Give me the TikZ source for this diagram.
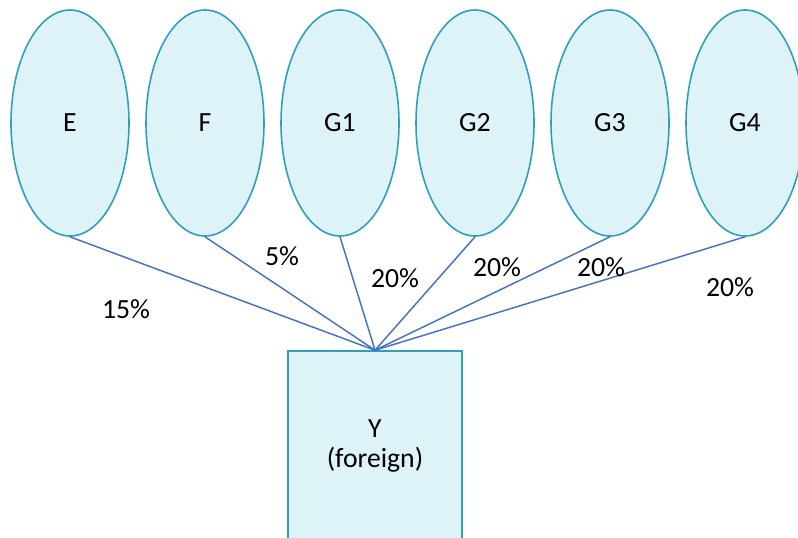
\documentclass[tikz,border=0pt]{standalone}
\usepackage{fontspec}
\setmainfont{Carlito}
\usetikzlibrary{shapes.geometric}

\definecolor{shapefill}{HTML}{DDF3F8}
\definecolor{shapeline}{HTML}{2F9FBA}
\definecolor{linkblue}{HTML}{4472C4}

\tikzset{>=latex}

\begin{document}
\begin{tikzpicture}[x=0.75pt, y=-0.75pt]

	\tikzstyle{group_node} = [ellipse, draw=shapeline, fill=shapefill, line width=1.2pt, minimum width=88.5pt, minimum height=169.5pt, inner sep=0pt, font=\fontsize{20.8}{24}\selectfont]
	\tikzstyle{target_node} = [rectangle, draw=shapeline, fill=shapefill, line width=1.2pt, minimum width=130.5pt, minimum height=142.5pt, inner sep=0pt, align=center, font=\fontsize{20.8}{23}\selectfont]
	\tikzstyle{share} = [font=\fontsize{20.8}{24}\selectfont, inner sep=0pt]
	\tikzstyle{link} = [draw=linkblue, line width=1.1pt]

	\useasboundingbox (0,0) rectangle (798,537);
	\clip (0,0) rectangle (798,537);

%------------------------------------------------------------
	\node[group_node] (e)  at (70,123)  {E};
	\node[group_node] (f)  at (205,123) {F};
	\node[group_node] (g1) at (340,123) {G1};
	\node[group_node] (g2) at (475,123) {G2};
	\node[group_node] (g3) at (610,123) {G3};
	\node[group_node] (g4) at (745,123) {G4};

%------------------------------------------------------------
	\node[target_node] (y) at (375,446) {Y\\(foreign)};

%------------------------------------------------------------
	\path[link] (e.south)  edge (y.north);
	\path[link] (f.south)  edge (y.north);
	\path[link] (g1.south) edge (y.north);
	\path[link] (g2.south) edge (y.north);
	\path[link] (g3.south) edge (y.north);
	\path[link] (g4.south) edge (y.north);

%------------------------------------------------------------
	\node[share] (p_e)  at (126,309) {15\%};
	\node[share] (p_f)  at (282,256) {5\%};
	\node[share] (p_g1) at (395,278) {20\%};
	\node[share] (p_g2) at (497,267) {20\%};
	\node[share] (p_g3) at (601,267) {20\%};
	\node[share] (p_g4) at (730,287) {20\%};

\end{tikzpicture}
\end{document}
